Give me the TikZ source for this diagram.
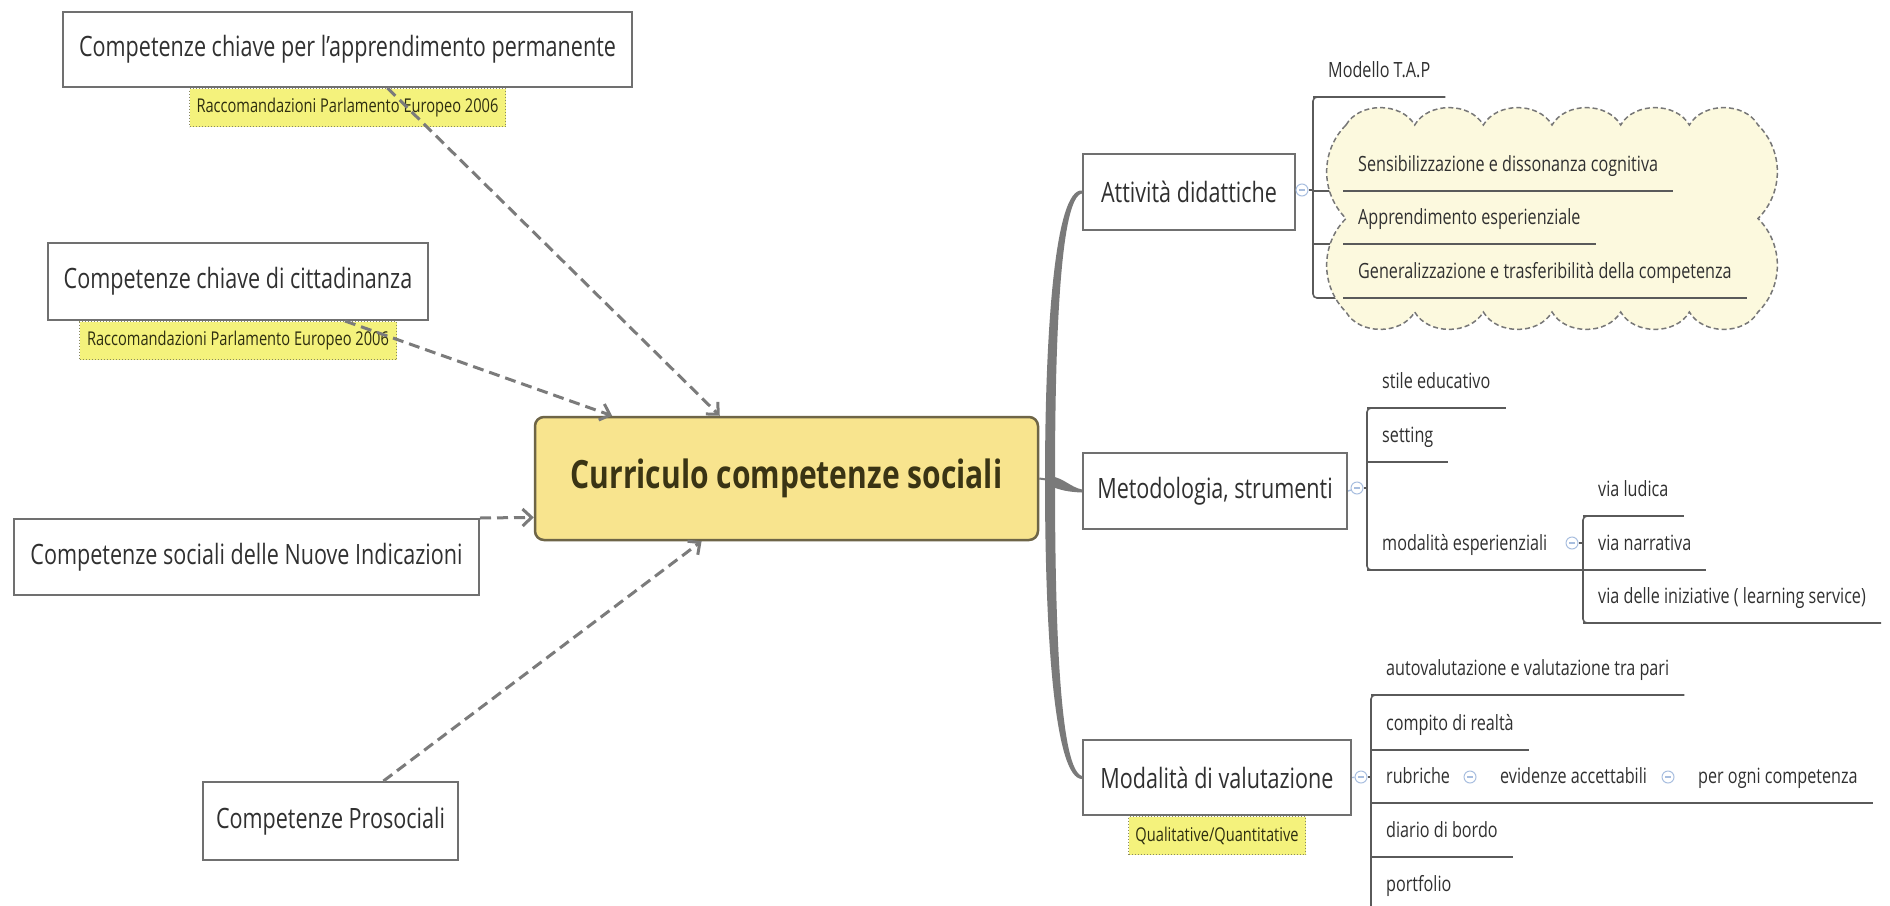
\documentclass[tikz,border=0pt]{standalone}
\usepackage{fontspec}
\setmainfont{Open Sans}[FakeStretch=0.77]
\usepackage{xcolor}
\usepackage{tikz}
\usetikzlibrary{calc,arrows.meta}
\definecolor{boxline}{HTML}{707070}
\definecolor{txt}{HTML}{303030}
\definecolor{tagfill}{HTML}{F4F27C}
\definecolor{tagline}{HTML}{8A8A60}
\definecolor{tagtxt}{HTML}{2E2E10}
\definecolor{cenfill}{HTML}{F8E48E}
\definecolor{cenline}{HTML}{6E6547}
\definecolor{centxt}{HTML}{3A3414}
\definecolor{cloudfill}{HTML}{FCF9DE}
\definecolor{cloudline}{HTML}{777777}
\definecolor{dashc}{HTML}{7B7B7B}
\definecolor{trunkc}{HTML}{7A7A7A}
\definecolor{barc}{HTML}{5A5A5A}
\definecolor{foldc}{HTML}{A8BEDF}
\pgfdeclarelayer{back}
\pgfsetlayers{back,main}
\newcommand\fBig{\fontsize{28}{32}\selectfont}
\newcommand\fCen{\fontsize{39}{44}\selectfont\bfseries}
\newcommand\fItem{\fontsize{21}{24}\selectfont}
\newcommand\fLab{\fontsize{19}{22}\selectfont}
\tikzset{
  box/.style={draw=boxline, fill=white, line width=2pt, text=txt, font=\fBig, inner sep=0pt},
  root/.style={draw=cenline, fill=cenfill, line width=2.5pt, rounded corners=9pt, text=centxt, font=\fCen, inner sep=0pt, minimum width=503pt, minimum height=123pt},
  tag/.style={draw=tagline, dotted, fill=tagfill, line width=1pt, text=tagtxt, font=\fLab, inner sep=0pt, minimum height=38pt, anchor=north},
  link/.style={draw=dashc, line width=3pt, dash pattern=on 11pt off 6pt, -{Straight Barb[length=9pt,width=17pt]}},
  trunk/.style={fill=trunkc},
  bar/.style={draw=barc, line width=1.6pt},
  fine/.style={draw=foldc, line width=1.4pt},
  item/.style={anchor=south west, inner xsep=15pt, inner ysep=0pt, text depth=19pt, text=txt, font=\fItem},
  fold/.style={circle, draw=foldc, fill=white, line width=1pt, minimum size=12pt, inner sep=0pt,
    path picture={\draw[foldc, line width=1.2pt] ([xshift=3pt]path picture bounding box.west) -- ([xshift=-3pt]path picture bounding box.east);}},
  cloudy/.style={draw=cloudline, fill=cloudfill, line width=1.5pt, dash pattern=on 5pt off 3pt},
}
\begin{document}
\begin{tikzpicture}[x=1pt, y=-1pt]
  \useasboundingbox (0,0) rectangle (1890,905);
  % sources on the left
  \node[box, minimum width=569pt, minimum height=75pt] (kA) at (347.5,49.5) {Competenze chiave per l'apprendimento permanente};
  \node[tag, minimum width=316pt] (rA) at (kA.south) {Raccomandazioni Parlamento Europeo 2006};
  \node[box, minimum width=380pt, minimum height=77pt] (kB) at (238,281.5) {Competenze chiave di cittadinanza};
  \node[tag, minimum width=317pt] (rB) at (kB.south) {Raccomandazioni Parlamento Europeo 2006};
  \node[box, minimum width=465pt, minimum height=76pt] (kC) at (246.5,557) {Competenze sociali delle Nuove Indicazioni};
  \node[box, minimum width=255pt, minimum height=78pt] (kD) at (330.5,821) {Competenze Prosociali};
  \node[root] (cen) at (786.5,478.5) {Curriculo competenze sociali};

  \draw[link] ($(kA.south west)!0.57!(kA.south east)$) -- ($(cen.north west)!0.368!(cen.north east)$);
  \draw[link] ($(kB.south west)!0.78!(kB.south east)$) -- ($(cen.north west)!0.155!(cen.north east)$);
  \draw[link] (kC.north east) -- ($(cen.north west)!0.81!(cen.south west)$);
  \draw[link] ($(kD.north west)!0.706!(kD.north east)$) -- ($(cen.south west)!0.332!(cen.south east)$);

  % branches on the right
  \node[box, minimum width=212pt, minimum height=76pt] (att) at (1189,192) {Attività didattiche};
  \node[box, minimum width=264pt, minimum height=76pt] (met) at (1215,491) {Metodologia, strumenti};
  \node[box, minimum width=268pt, minimum height=75pt] (mod) at (1217,777.5) {Modalità di valutazione};
  \node[tag, minimum width=177pt] (rQ) at (mod.south) {Qualitative/Quantitative};

  \coordinate (hub) at (1050,480);
  \draw[draw=trunkc, line width=2pt] (cen.east) -- (hub);
  \fill[trunk] ($(hub)+(-5,0)$) .. controls (1045,330) and (1055,188) .. ($(att.west)+(0,-1.5)$)
    -- ($(att.west)+(0,1.5)$) .. controls (1061,197) and (1055,330) .. ($(hub)+(5,0)$) -- cycle;
  \fill[trunk] ($(hub)+(-5,0)$) .. controls (1045,640) and (1055,779) .. ($(mod.west)+(0,1.5)$)
    -- ($(mod.west)+(0,-1.5)$) .. controls (1061,770) and (1055,640) .. ($(hub)+(5,0)$) -- cycle;
  \fill[trunk] ($(hub)+(0,-4)$) .. controls (1064,478) and (1070,487) .. ($(met.west)+(0,-1.5)$)
    -- ($(met.west)+(0,1.5)$) .. controls (1068,492) and (1060,490) .. ($(hub)+(0,6)$) -- cycle;

  \node[fold] (fA) at (1302,190) {};
  \node[fold] (fM) at (1357,488) {};
  \node[fold] (fV) at (1361,777) {};
  \node[fold] (fE) at (1572,543) {};
  \node[fold] (fR) at (1470,777) {};
  \node[fold] (fS) at (1668,777) {};

  % Attivita
  \node[item] (tMod) at (1313,97) {Modello T.A.P};
  \draw[cloudy] (1346,125)
    \foreach \i in {1,...,6} { to[bend left=60] ++(68.67,0) }
    \foreach \i in {1,2} { to[bend left=45] ++(0,93.5) }
    \foreach \i in {1,...,6} { to[bend left=60] ++(-68.67,0) }
    \foreach \i in {1,2} { to[bend left=45] ++(0,-93.5) } -- cycle;
  \node[item] (tSen) at (1343,191) {Sensibilizzazione e dissonanza cognitiva};
  \node[item] (tApp) at (1343,244) {Apprendimento esperienziale};
  \node[item] (tGen) at (1343,298) {Generalizzazione e trasferibilità della competenza};

  % Metodologia
  \node[item] (tSti) at (1367,408) {stile educativo};
  \node[item] (tSet) at (1367,462) {setting};
  \node[item] (tEsp) at (1367,570) {modalità esperienziali};
  \node[item] (tLud) at (1583,516) {via ludica};
  \node[item] (tNar) at (1583,570) {via narrativa};
  \node[item] (tIni) at (1583,623) {via delle iniziative ( learning service)};

  % Modalita
  \node[item] (tAut) at (1371,695) {autovalutazione e valutazione tra pari};
  \node[item] (tCom) at (1371,750) {compito di realtà};
  \node[item] (tRub) at (1371,803) {rubriche};
  \node[item] (tEvi) at (1485,803) {evidenze accettabili};
  \node[item] (tPer) at (1683,803) {per ogni competenza};
  \node[item] (tDia) at (1371,857) {diario di bordo};
  \node[item] (tPor) at (1371,911) {portfolio};

  \foreach \n in {tMod,tSen,tApp,tGen,tSti,tSet,tLud,tIni,tAut,tCom,tDia}
    \draw[bar] (\n.south west) -- (\n.south east);
  \draw[bar] (tEsp.south west) -- (tNar.south east);
  \draw[bar] (tRub.south west) -- (tPer.south east);

  \begin{pgfonlayer}{back}
    \fill[white] (0,0) rectangle (1890,905);
    \draw[bar, rounded corners=4pt] (tMod.south east) -- (tMod.south west) -- (tMod.south west |- tGen.south) -- (tGen.south west);
    \draw[bar] (tMod.south west |- tSen.south) -- (tSen.south west);
    \draw[bar] (tMod.south west |- tApp.south) -- (tApp.south west);
    \draw[bar] (fA) -- (fA -| tMod.south west);
    \draw[fine] (att.east) -- (fA);
    \draw[bar, rounded corners=4pt] (tSti.south east) -- (tSti.south west) -- (tEsp.south west) -- (tEsp.south east);
    \draw[bar] (tSti.south west |- tSet.south) -- (tSet.south east);
    \draw[bar] (fM) -- (fM -| tSti.south west);
    \draw[fine] (met.east) -- (fM);
    \draw[bar, rounded corners=4pt] (tLud.south east) -- (tLud.south west) -- (tIni.south west) -- (tIni.south east);
    \draw[bar] (fE) -- (fE -| tLud.south west);
    \draw[bar, rounded corners=4pt] (tAut.south east) -- (tAut.south west) -- (tPor.south west);
    \draw[bar] (fV) -- (fV -| tAut.south west);
    \draw[fine] (mod.east) -- (fV);
  \end{pgfonlayer}
\end{tikzpicture}
\end{document}
